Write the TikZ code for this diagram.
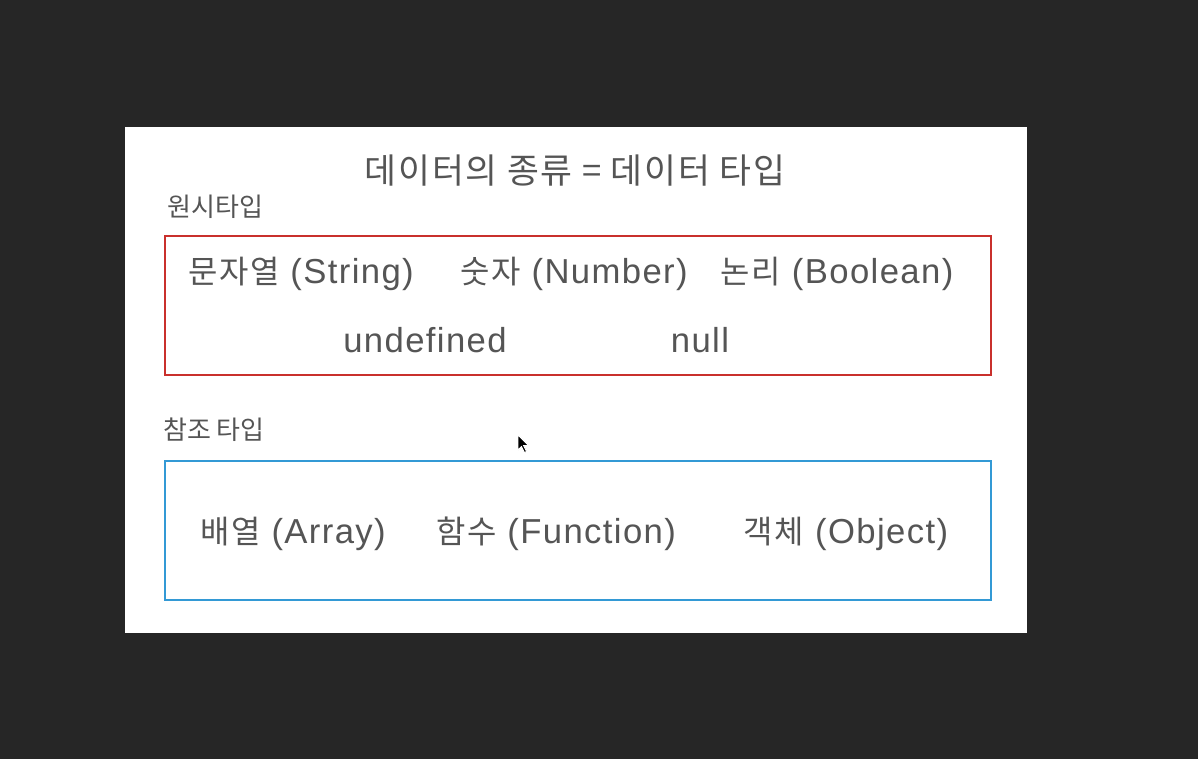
\documentclass[tikz,border=0pt]{standalone}
\usepackage{fontspec}
\setmainfont{Liberation Sans}[LetterSpace=4]
\newfontfamily\kr{Noto Sans CJK KR}[Scale=0.92,LetterSpace=5]
\newfontfamily\krtitle{Noto Sans CJK KR}[LetterSpace=5]
\newfontfamily\krlabel{Noto Sans CJK KR}
\definecolor{bgdark}{HTML}{262626}
\definecolor{txtgray}{HTML}{555555}
\definecolor{primred}{HTML}{C9302C}
\definecolor{refblue}{HTML}{3399D5}
\begin{document}
\begin{tikzpicture}[x=0.75pt,y=-0.75pt,
    item/.style={anchor=base,inner sep=0pt,text=txtgray,font=\fontsize{26}{30}\selectfont},
    grouplabel/.style={anchor=base west,inner sep=0pt,text=txtgray,font=\krlabel\fontsize{19.5}{22}\selectfont},
    typebox/.style={line width=1.5pt}]
    \fill [bgdark] (0,0) rectangle (1198,759);
    \useasboundingbox (0,0) rectangle (1198,759);
    \fill [white] (125,127) rectangle (1027,633);
    \node [item,font=\krtitle\fontsize{26}{30}\selectfont] (title) at (575,184) {데이터의 종류 = 데이터 타입};
    \node [grouplabel] (primlabel) at (167,217) {원시타입};
    \draw [typebox,primred] (165,236) rectangle (991,375);
    \node [item] (string) at (301,283) {{\kr 문자열} (String)};
    \node [item] (number) at (574,283) {{\kr 숫자} (Number)};
    \node [item] (boolean) at (837,283) {{\kr 논리} (Boolean)};
    \node [item] (undef) at (425,352) {undefined};
    \node [item] (null) at (700,352) {null};
    \node [grouplabel] (reflabel) at (163,439) {참조 타입};
    \draw [typebox,refblue] (165,461) rectangle (991,600);
    \node [item] (array) at (293,543) {{\kr 배열} (Array)};
    \node [item] (function) at (556,543) {{\kr 함수} (Function)};
    \node [item] (object) at (846,543) {{\kr 객체} (Object)};
    \coordinate (cursor) at (518,435);
    \fill [black,draw=white,line width=0.6pt] (cursor) -- ++(0,15) -- ++(3.5,-3.5) -- ++(3,6) -- ++(2,-1) -- ++(-3,-6) -- ++(5,0) -- cycle;
\end{tikzpicture}
\end{document}
